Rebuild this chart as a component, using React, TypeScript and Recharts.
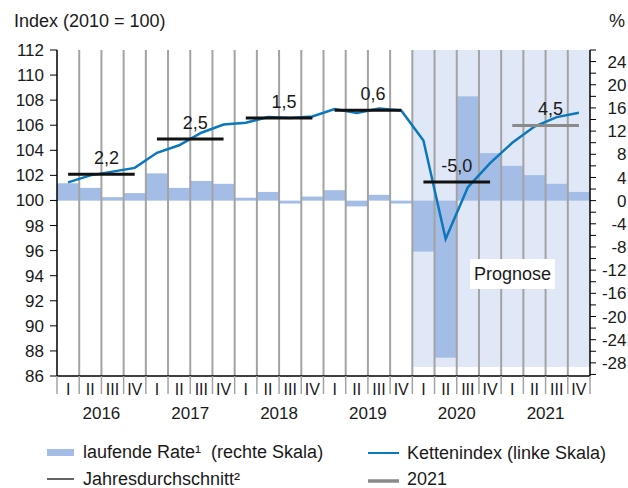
import React from 'react';
import { ComposedChart, Bar, Line, XAxis, YAxis, ReferenceLine, ReferenceArea } from 'recharts';

const years = ['2016', '2017', '2018', '2019', '2020', '2021'];
const quarterLabels = ['I', 'II', 'III', 'IV'];
const rate = [3.0, 2.2, 0.6, 1.3, 4.7, 2.2, 3.4, 2.9, 0.5, 1.5, -0.5, 0.7, 1.8, -1.0, 1.0, -0.5, -8.8, -27.1, 18.0, 8.2, 6.0, 4.4, 2.9, 1.5];
const chainIndex = [101.44, 102.0, 102.3, 102.6, 103.8, 104.4, 105.4, 106.06, 106.2, 106.65, 106.57, 106.7, 107.29, 106.97, 107.34, 107.18, 104.78, 96.92, 101.05, 102.98, 104.6, 105.9, 106.65, 107.0];
const annualLevel = [102.1, 104.9, 106.57, 107.2, 101.47, 105.98];
const annualLabel = ['2,2', '2,5', '1,5', '0,6', '-5,0', '4,5'];
const leftTicks = [86, 88, 90, 92, 94, 96, 98, 100, 102, 104, 106, 108, 110, 112];
const rightTicks = [-30, -28, -26, -24, -22, -20, -18, -16, -14, -12, -10, -8, -6, -4, -2, 0, 2, 4, 6, 8, 10, 12, 14, 16, 18, 20, 22, 24, 26];
const forecastFromYear = '2020';
const rightDomain = [-30.27, 26];
const forecastShadeBottom = -28.7;

const FONT = '"Liberation Sans", Arial, Helvetica, sans-serif';
const TEXT = '#1a1a1a';
const BAR = '#a3bde6';
const SHADE = '#e0e7f7';
const BLUE = '#0b78be';
const GRID = '#a3a3a3';

const keyOf = (y: string, q: string) => `${y} ${q}`;
const data = rate.map((r, i) => ({
  key: keyOf(years[Math.floor(i / 4)], quarterLabels[i % 4]),
  rate: r,
  index: chainIndex[i],
}));

const nQ = data.length;
const lastYear = years[years.length - 1];

const QuarterTick = (props: any) => {
  const { x, y, payload, index } = props;
  const half = payload && payload.offset ? payload.offset : 11.1;
  const [yr, q] = String(payload.value).split(' ');
  return (
    <g>
      <line x1={x - half} x2={x - half} y1={y} y2={y + 18} stroke={GRID} strokeWidth={1.5} />
      {index === nQ - 1 && <line x1={x + half} x2={x + half} y1={y} y2={y + 18} stroke={GRID} strokeWidth={1.5} />}
      <text x={x} y={y + 19} textAnchor="middle" fontSize={16} fill={TEXT} fontFamily={FONT}>{q}</text>
      {index % 4 === 1 && (
        <text x={x + half} y={y + 43} textAnchor="middle" fontSize={17} fill={TEXT} fontFamily={FONT}>{yr}</text>
      )}
    </g>
  );
};

const RightTick = (props: any) => {
  const { x, y, payload } = props;
  const v = Math.round(payload.value);
  if (v % 4 !== 0 || v < -28 || v > 24) return <g />;
  return (
    <text x={x + 28.5} y={y} dy="0.36em" textAnchor="end" fontSize={17} fill={TEXT} fontFamily={FONT}>{v}</text>
  );
};

// bar rectangle plus the quarter separator line at its left edge (drawn above the previous bar)
const BarWithGrid = (props: any) => {
  const { x, y, width, height, fill, background, index } = props;
  const ry = height < 0 ? y + height : y;
  const rh = Math.abs(height || 0);
  const bgY = background && background.y != null ? background.y : 50;
  const bgH = background && background.height != null ? background.height : 326;
  return (
    <g>
      <rect x={x} y={ry} width={width} height={rh} fill={fill} />
      {index > 0 && <line x1={x} x2={x} y1={bgY} y2={bgY + bgH} stroke={GRID} strokeWidth={2} />}
    </g>
  );
};

const makeAvgLabel = (text: string) => (p: any) => {
  const vb = p.viewBox || {};
  const cx = (vb.x || 0) + (vb.width || 0) / 2 + (text.startsWith('-') ? 0 : 5);
  return (
    <text x={cx} y={(vb.y || 0) - 10} textAnchor="middle" fontSize={18} fill={TEXT} fontFamily={FONT}>{text}</text>
  );
};

export default function App() {
  return (
    <div style={{ position: 'absolute', left: 0, top: 0, width: 628, height: 488, background: '#fff', fontFamily: FONT }}>
      <ComposedChart
        width={628}
        height={488}
        data={data}
        margin={{ top: 50, right: 0, left: 0, bottom: 52 }}
        barCategoryGap={0}
        barGap={0}
        style={{ fontFamily: FONT }}
      >
        <XAxis
          xAxisId="cat"
          dataKey="key"
          interval={0}
          height={60}
          tickSize={0}
          tickMargin={0}
          tickLine={false}
          axisLine={{ stroke: '#000', strokeWidth: 1.5 }}
          tick={<QuarterTick />}
        />
        <YAxis
          yAxisId="left"
          domain={[86, 112]}
          ticks={leftTicks}
          allowDataOverflow
          width={57}
          tickSize={7}
          tickMargin={6}
          interval={0}
          axisLine={{ stroke: '#000', strokeWidth: 1.5 }}
          tickLine={{ stroke: '#000', strokeWidth: 1 }}
          tick={{ fill: TEXT, fontSize: 17, fontFamily: FONT }}
        />
        <YAxis
          yAxisId="right"
          orientation="right"
          domain={rightDomain}
          ticks={rightTicks}
          allowDataOverflow
          width={38}
          tickSize={6}
          tickMargin={2}
          interval={0}
          axisLine={{ stroke: '#000', strokeWidth: 1.5 }}
          tickLine={{ stroke: '#000', strokeWidth: 1 }}
          tick={<RightTick />}
        />
        <ReferenceArea
          xAxisId="cat"
          yAxisId="right"
          x1={keyOf(forecastFromYear, quarterLabels[0])}
          x2={keyOf(lastYear, quarterLabels[3])}
          y1={forecastShadeBottom}
          y2={rightDomain[1]}
          fill={SHADE}
          fillOpacity={1}
          stroke="none"
          ifOverflow="visible"
        />
        <Bar
          xAxisId="cat"
          yAxisId="right"
          dataKey="rate"
          fill={BAR}
          shape={<BarWithGrid />}
          isAnimationActive={false}
        />
        <Line
          xAxisId="cat"
          yAxisId="left"
          dataKey="index"
          type="linear"
          stroke={BLUE}
          strokeWidth={2.5}
          dot={false}
          isAnimationActive={false}
        />
        {annualLevel.map((lv, i) => (
          <ReferenceLine
            key={`a${i}`}
            xAxisId="cat"
            yAxisId="left"
            segment={[
              { x: keyOf(years[i], quarterLabels[0]), y: lv },
              { x: keyOf(years[i], quarterLabels[3]), y: lv },
            ]}
            stroke={i === annualLevel.length - 1 ? '#8a8a8a' : '#111'}
            strokeWidth={3}
            ifOverflow="visible"
            label={makeAvgLabel(annualLabel[i])}
          />
        ))}
      </ComposedChart>
      <svg
        width={628}
        height={488}
        style={{ position: 'absolute', left: 0, top: 0, pointerEvents: 'none' }}
        fontFamily={FONT}
      >
        <text x={14} y={27} fontSize={18} fill={TEXT}>Index (2010 = 100)</text>
        <text x={609} y={27} fontSize={18} fill={TEXT}>%</text>
        <rect x={470} y={259} width={85} height={30} fill="#fff" />
        <text x={512.5} y={280} fontSize={18} fill={TEXT} textAnchor="middle">Prognose</text>
        <rect x={47} y={449} width={27} height={7} fill={BAR} />
        <text x={83} y={458} fontSize={18} fill={TEXT}>{'laufende Rate¹\u00A0 (rechte Skala)'}</text>
        <line x1={368} x2={399} y1={453} y2={453} stroke={BLUE} strokeWidth={2} />
        <text x={407} y={459} fontSize={18} fill={TEXT}>Kettenindex (linke Skala)</text>
        <line x1={47} x2={74} y1={479} y2={479} stroke="#111" strokeWidth={1.3} />
        <text x={83} y={485} fontSize={18} fill={TEXT}>Jahresdurchschnitt²</text>
        <line x1={368} x2={399} y1={481} y2={481} stroke="#8a8a8a" strokeWidth={3.5} />
        <text x={407} y={485} fontSize={18} fill={TEXT}>2021</text>
      </svg>
    </div>
  );
}
